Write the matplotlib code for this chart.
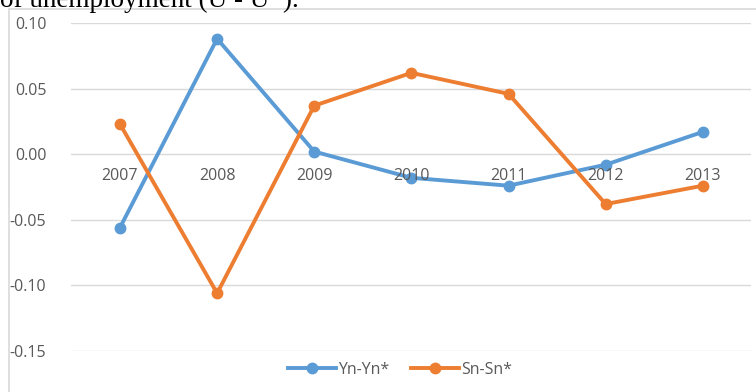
import numpy as np
import matplotlib.pyplot as plt
from matplotlib.patches import Rectangle

# datos
anios = ['2007', '2008', '2009', '2010', '2011', '2012', '2013']
yn = [-0.056, 0.088, 0.002, -0.018, -0.024, -0.008, 0.017]
sn = [0.023, -0.106, 0.037, 0.062, 0.046, -0.038, -0.024]
yticks = [0.10, 0.05, 0.00, -0.05, -0.10, -0.15]

azul = '#5B9BD5'
naranja = '#ED7D31'
gris = '#595959'

fig = plt.figure(figsize=(7.56, 3.92), dpi=100)
fig.patch.set_facecolor('white')

# texto del documento cortado arriba
fig.text(0.0, 1 - 7/392, 'of unemployment (U - U*).', family='Liberation Serif',
         fontsize=19.5, color='black', va='baseline', ha='left')

# marco del grafico
fig.patches.append(Rectangle((9/756, -0.05), 760/756, 1 - 9/392 + 0.05,
                             transform=fig.transFigure, fill=False,
                             edgecolor='#D9D9D9', linewidth=1.2))

ax = fig.add_axes([71.4/756, 1 - 351/392, 680/756, 328/392])
x = np.arange(len(anios))
ax.plot(x, yn, color=azul, lw=2.8, marker='o', ms=7.5, label='Yn-Yn*')
ax.plot(x, sn, color=naranja, lw=2.8, marker='o', ms=7.5, label='Sn-Sn*')

ax.set_xlim(-0.5, len(anios) - 0.5)
ax.set_ylim(-0.15, 0.10)
ax.set_yticks(yticks)
ax.set_yticklabels(['%.2f' % v for v in yticks], family='Open Sans', fontsize=11.5, color=gris)
ax.tick_params(axis='y', length=0, pad=18)
ax.set_xticks([])
for s in ax.spines.values():
    s.set_visible(False)
ax.grid(axis='y', color='#D9D9D9', lw=1)
ax.set_axisbelow(True)

# etiquetas de categoria junto al eje cero
for i, a in enumerate(anios):
    ax.annotate(a, (i, 0), xytext=(0, -16), textcoords='offset points',
                ha='center', va='center', family='Open Sans', fontsize=11.5, color=gris)

fig.legend(loc='center', bbox_to_anchor=(400/756, 1 - 370/392), ncol=2, frameon=False,
           prop={'family': 'Open Sans', 'size': 11.5}, labelcolor=gris,
           handlelength=3.0, handletextpad=0.1, columnspacing=1.4)

fig.savefig('out.png', dpi=100)
